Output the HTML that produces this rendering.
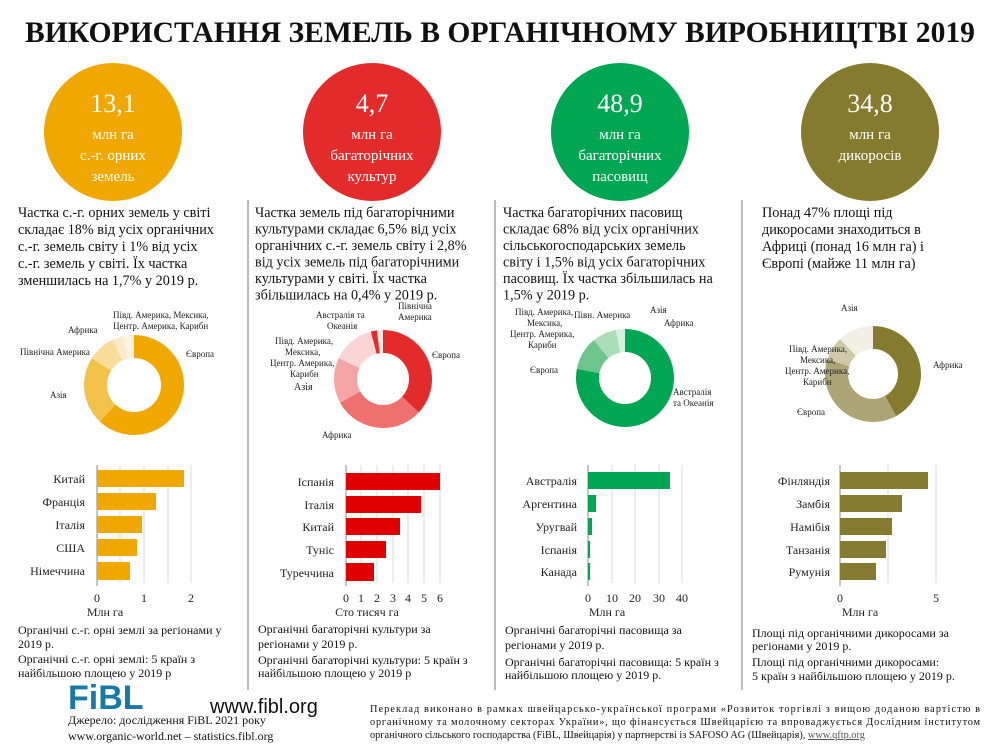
<!DOCTYPE html>
<html><head><meta charset="utf-8"><style>
body{margin:0;background:#fff;}
svg{display:block;font-family:"Liberation Serif",serif;}
.p{font-size:14.2px;fill:#111}
.s{font-size:9px;fill:#222}
.b{font-size:12px;fill:#222}
.f{font-size:12px;fill:#111}
.c{fill:#fff;text-anchor:middle}
</style></head><body>
<svg width="1000" height="750" viewBox="0 0 1000 750">
<text x="500" y="42" text-anchor="middle" font-size="30" font-weight="bold" fill="#111" textLength="950" lengthAdjust="spacingAndGlyphs">ВИКОРИСТАННЯ ЗЕМЕЛЬ В ОРГАНІЧНОМУ ВИРОБНИЦТВІ 2019</text>
<circle cx="113" cy="132" r="69" fill="#F0A800"/>
<circle cx="372" cy="132" r="69" fill="#E32B2B"/>
<circle cx="620" cy="132" r="69" fill="#00A651"/>
<circle cx="870" cy="132" r="69" fill="#857B2E"/>
<g class="c">
<text x="113" y="112" font-size="26">13,1</text><text x="113" y="139" font-size="15">млн га</text><text x="113" y="160" font-size="15">с.-г. орних</text><text x="113" y="181" font-size="15">земель</text>
<text x="372" y="112" font-size="26">4,7</text><text x="372" y="139" font-size="15">млн га</text><text x="372" y="160" font-size="15">багаторічних</text><text x="372" y="181" font-size="15">культур</text>
<text x="620" y="112" font-size="26">48,9</text><text x="620" y="139" font-size="15">млн га</text><text x="620" y="160" font-size="15">багаторічних</text><text x="620" y="181" font-size="15">пасовищ</text>
<text x="870" y="112" font-size="26">34,8</text><text x="870" y="139" font-size="15">млн га</text><text x="870" y="160" font-size="15">дикоросів</text>
</g>
<g stroke="#bbb" stroke-width="2">
<line x1="248" y1="200" x2="248" y2="690"/><line x1="495" y1="200" x2="495" y2="690"/><line x1="742" y1="200" x2="742" y2="690"/>
</g>
<g class="p">
<text x="18" y="217">Частка с.-г. орних земель у світі</text><text x="18" y="234">складає 18% від усіх органічних</text><text x="18" y="251">с.-г. земель світу і 1% від усіх</text><text x="18" y="268">с.-г. земель у світі. Їх частка</text><text x="18" y="285">зменшилась на 1,7% у 2019 р.</text>
<text x="255" y="217">Частка земель під багаторічними</text><text x="255" y="233.5">культурами складає 6,5% від усіх</text><text x="255" y="250">органічних с.-г. земель світу і 2,8%</text><text x="255" y="266.5">від усіх земель під багаторічними</text><text x="255" y="283">культурами у світі. Їх частка</text><text x="255" y="299.5">збільшилась на 0,4% у 2019 р.</text>
<text x="503" y="217">Частка багаторічних пасовищ</text><text x="503" y="233.5">складає 68% від усіх органічних</text><text x="503" y="250">сільськогосподарських земель</text><text x="503" y="266.5">світу і 1,5% від усіх багаторічних</text><text x="503" y="283">пасовищ. Їх частка збільшилась на</text><text x="503" y="299.5">1,5% у 2019 р.</text>
<text x="762" y="217">Понад 47% площі під</text><text x="762" y="234">дикоросами знаходиться в</text><text x="762" y="251">Африці (понад 16 млн га) і</text><text x="762" y="268">Європі (майже 11 млн га)</text>
</g>
<g fill="none" stroke-width="23">
<g transform="translate(134,385) rotate(-90)">
<circle r="38.5" stroke="#F0A800" pathLength="100" stroke-dasharray="62 100"/>
<circle r="38.5" stroke="#F3C24A" pathLength="100" stroke-dasharray="22 100" stroke-dashoffset="-62"/>
<circle r="38.5" stroke="#F8DC9A" pathLength="100" stroke-dasharray="9 100" stroke-dashoffset="-84"/>
<circle r="38.5" stroke="#FBEACB" pathLength="100" stroke-dasharray="3.5 100" stroke-dashoffset="-93"/>
<circle r="38.5" stroke="#FDF3E0" pathLength="100" stroke-dasharray="3.5 100" stroke-dashoffset="-96.5"/>
</g>
<g transform="translate(383,379) rotate(-90)">
<circle r="37.5" stroke="#E32B2B" pathLength="100" stroke-dasharray="37 100"/>
<circle r="37.5" stroke="#F07070" pathLength="100" stroke-dasharray="30 100" stroke-dashoffset="-37"/>
<circle r="37.5" stroke="#F5A5A5" pathLength="100" stroke-dasharray="15 100" stroke-dashoffset="-67"/>
<circle r="37.5" stroke="#FAD5D5" pathLength="100" stroke-dasharray="14 100" stroke-dashoffset="-82"/>
<circle r="37.5" stroke="#E32B2B" pathLength="100" stroke-dasharray="2 100" stroke-dashoffset="-96"/>
<circle r="37.5" stroke="#FBE7E7" pathLength="100" stroke-dasharray="2 100" stroke-dashoffset="-98"/>
</g>
<g transform="translate(625,378) rotate(-90)">
<circle r="37.5" stroke="#00A651" pathLength="100" stroke-dasharray="78 100"/>
<circle r="37.5" stroke="#6CC58B" pathLength="100" stroke-dasharray="11 100" stroke-dashoffset="-78"/>
<circle r="37.5" stroke="#A8DDB8" pathLength="100" stroke-dasharray="8 100" stroke-dashoffset="-89"/>
<circle r="37.5" stroke="#D8EFDF" pathLength="100" stroke-dasharray="3 100" stroke-dashoffset="-97"/>
</g>
<g transform="translate(873,374) rotate(-90)">
<circle r="36.5" stroke="#857B2E" pathLength="100" stroke-dasharray="42 100"/>
<circle r="36.5" stroke="#ADA576" pathLength="100" stroke-dasharray="38 100" stroke-dashoffset="-42"/>
<circle r="36.5" stroke="#CFC9A8" pathLength="100" stroke-dasharray="8 100" stroke-dashoffset="-80"/>
<circle r="36.5" stroke="#F0EEE5" pathLength="100" stroke-dasharray="12 100" stroke-dashoffset="-88"/>
</g>
</g>
<g class="s">
<text x="113" y="318">Півд. Америка, Мексика,</text><text x="113" y="329">Центр. Америка, Карибн</text>
<text x="68" y="333">Африка</text><text x="20" y="355">Північна Америка</text>
<text x="50" y="398">Азія</text><text x="186" y="357">Європа</text>
<text x="316" y="318">Австралія та</text><text x="327" y="329">Океанія</text>
<text x="398" y="309">Північна</text><text x="398" y="320">Америка</text>
<text x="275" y="344">Півд. Америка,</text><text x="285" y="355">Мексика,</text><text x="270" y="366">Центр. Америка,</text><text x="290" y="377">Карибн</text>
<text x="294" y="390" font-size="10">Азія</text><text x="432" y="358">Європа</text><text x="322" y="438">Африка</text>
<text x="515" y="315">Півд. Америка,</text><text x="527" y="326">Мексика,</text><text x="510" y="337">Центр. Америка,</text><text x="528" y="348">Карибн</text>
<text x="574" y="318">Півн. Америка</text><text x="650" y="313">Азія</text><text x="664" y="326">Африка</text>
<text x="530" y="373">Європа</text><text x="673" y="395">Австралія</text><text x="673" y="406">та Океанія</text>
<text x="841" y="311">Азія</text><text x="789" y="352">Півд. Америка,</text><text x="800" y="363">Мексика,</text><text x="785" y="374">Центр. Америка,</text><text x="803" y="385">Карибн</text>
<text x="797" y="415">Європа</text><text x="933" y="368">Африка</text>
</g>
<g stroke="#d8d8d8" stroke-width="1">
<line x1="120" y1="465" x2="120" y2="583"/><line x1="144" y1="465" x2="144" y2="583"/><line x1="168" y1="465" x2="168" y2="583"/><line x1="191" y1="465" x2="191" y2="583"/>
<line x1="361" y1="465" x2="361" y2="583"/><line x1="377" y1="465" x2="377" y2="583"/><line x1="393" y1="465" x2="393" y2="583"/><line x1="408" y1="465" x2="408" y2="583"/><line x1="424" y1="465" x2="424" y2="583"/><line x1="440" y1="465" x2="440" y2="583"/>
<line x1="612" y1="465" x2="612" y2="583"/><line x1="635" y1="465" x2="635" y2="583"/><line x1="659" y1="465" x2="659" y2="583"/><line x1="682" y1="465" x2="682" y2="583"/>
<line x1="888" y1="465" x2="888" y2="583"/><line x1="936" y1="465" x2="936" y2="583"/>
</g>
<g stroke="#888" stroke-width="1">
<line x1="97" y1="465" x2="97" y2="586"/><line x1="346" y1="465" x2="346" y2="586"/><line x1="588" y1="465" x2="588" y2="586"/><line x1="840" y1="465" x2="840" y2="586"/>
</g>
<g fill="#F0A800">
<rect x="97" y="470" width="87" height="17"/><rect x="97" y="493" width="59" height="17"/><rect x="97" y="516" width="45" height="17"/><rect x="97" y="539" width="40" height="17"/><rect x="97" y="562" width="33" height="18"/>
</g>
<g fill="#E00000">
<rect x="346" y="473" width="94" height="17"/><rect x="346" y="496" width="75" height="17"/><rect x="346" y="518" width="54" height="17"/><rect x="346" y="541" width="40" height="17"/><rect x="346" y="563" width="28" height="18"/>
</g>
<g fill="#00A651">
<rect x="588" y="472" width="82" height="17"/><rect x="588" y="495" width="8" height="17"/><rect x="588" y="518" width="4" height="17"/><rect x="588" y="541" width="2" height="17"/><rect x="588" y="563" width="2" height="17"/>
</g>
<g fill="#857B2E">
<rect x="840" y="472" width="88" height="17"/><rect x="840" y="495" width="62" height="17"/><rect x="840" y="518" width="52" height="17"/><rect x="840" y="541" width="46" height="17"/><rect x="840" y="563" width="36" height="17"/>
</g>
<g class="b" text-anchor="end">
<text x="85" y="483">Китай</text><text x="85" y="506">Франція</text><text x="85" y="529">Італія</text><text x="85" y="552">США</text><text x="85" y="575">Німеччина</text>
<text x="334" y="486">Іспанія</text><text x="334" y="509">Італія</text><text x="334" y="531">Китай</text><text x="334" y="554">Туніс</text><text x="334" y="577">Туреччина</text>
<text x="577" y="485">Австралія</text><text x="577" y="508">Аргентина</text><text x="577" y="531">Уругвай</text><text x="577" y="554">Іспанія</text><text x="577" y="576">Канада</text>
<text x="830" y="485">Фінляндія</text><text x="830" y="508">Замбія</text><text x="830" y="531">Намібія</text><text x="830" y="554">Танзанія</text><text x="830" y="576">Румунія</text>
</g>
<g class="b" text-anchor="middle">
<text x="97" y="602">0</text><text x="144" y="602">1</text><text x="191" y="602">2</text>
<text x="346" y="602">0</text><text x="361" y="602">1</text><text x="377" y="602">2</text><text x="393" y="602">3</text><text x="408" y="602">4</text><text x="424" y="602">5</text><text x="440" y="602">6</text>
<text x="588" y="602">0</text><text x="612" y="602">10</text><text x="635" y="602">20</text><text x="659" y="602">30</text><text x="682" y="602">40</text>
<text x="840" y="602">0</text><text x="936" y="602">5</text>
<text x="105" y="616">Млн га</text><text x="367" y="616">Сто тисяч га</text><text x="607" y="616">Млн га</text><text x="860" y="616">Млн га</text>
</g>
<g class="f">
<text x="18" y="634">Органічні с.-г. орні землі за регіонами у</text><text x="18" y="648">2019 р.</text><text x="18" y="663">Органічні с.-г. орні землі: 5 країн з</text><text x="18" y="677">найбільшою площею у 2019 р</text>
<text x="258" y="633">Органічні багаторічні культури за</text><text x="258" y="648">регіонами у 2019 р.</text><text x="258" y="664">Органічні багаторічні культури: 5 країн з</text><text x="258" y="677">найбільшою площею у 2019 р</text>
<text x="505" y="634">Органічні багаторічні пасовища за</text><text x="505" y="649">регіонами у 2019 р.</text><text x="505" y="666">Органічні багаторічні пасовища: 5 країн з</text><text x="505" y="679">найбільшою площею у 2019 р.</text>
<text x="752" y="637">Площі під органічними дикоросами за</text><text x="752" y="650">регіонами у 2019 р.</text><text x="752" y="666">Площі під органічними дикоросами:</text><text x="752" y="680">5 країн з найбільшою площею у 2019 р.</text>
</g>
<text x="68" y="709" font-family="Liberation Sans,sans-serif" font-weight="bold" font-size="34" fill="#1679A6">FiBL</text>
<text x="210" y="713" font-family="Liberation Sans,sans-serif" font-size="20" fill="#111">www.fibl.org</text>
<text x="68" y="724" font-size="12" fill="#111">Джерело: дослідження FiBL 2021 року</text>
<text x="68" y="740" font-size="12" fill="#111">www.organic-world.net – statistics.fibl.org</text>
<g font-size="10.3" fill="#111">
<text x="370" y="712" textLength="610" lengthAdjust="spacing">Переклад виконано в рамках швейцарсько-української програми «Розвиток торгівлі з вищою доданою вартістю в</text>
<text x="370" y="725" textLength="610" lengthAdjust="spacing">органічному та молочному секторах України», що фінансується Швейцарією та впроваджується Дослідним інститутом</text>
<text x="370" y="738">органічного сільського господарства (FiBL, Швейцарія) у партнерстві із SAFOSO AG (Швейцарія), <tspan fill="#555" text-decoration="underline">www.qftp.org</tspan></text>
</g>
</svg>
</body></html>
